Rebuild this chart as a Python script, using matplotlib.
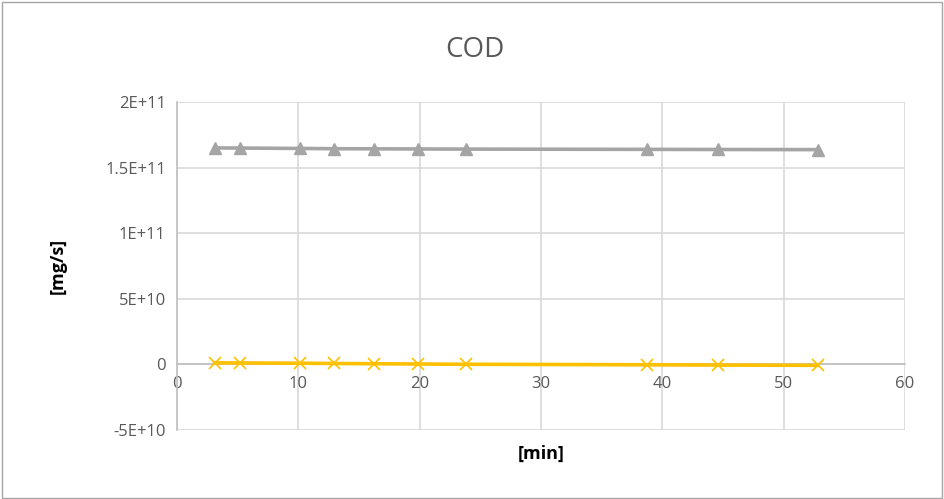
import numpy as np
import matplotlib.pyplot as plt
from matplotlib.patches import Rectangle

# data
time_min = [3.1, 5.2, 10.1, 12.9, 16.2, 19.9, 23.8, 38.7, 44.6, 52.8]
cod_gray = [1.650e11, 1.649e11, 1.646e11, 1.644e11, 1.643e11, 1.642e11, 1.641e11, 1.639e11, 1.638e11, 1.637e11]
cod_yellow = [1.2e9, 1.1e9, 0.9e9, 0.7e9, 0.5e9, 0.3e9, 0.1e9, -0.3e9, -0.5e9, -0.7e9]

x_ticks = [0, 10, 20, 30, 40, 50, 60]
y_ticks = [-5e10, 0, 5e10, 1e11, 1.5e11, 2e11]
y_labels = ["-5E+10", "0", "5E+10", "1E+11", "1.5E+11", "2E+11"]

plt.rcParams['font.family'] = ['Open Sans', 'DejaVu Sans']

fig = plt.figure(figsize=(9.44, 4.99), dpi=100)
ax = fig.add_axes([177 / 944, 1 - 430 / 499, (905 - 177) / 944, (430 - 102) / 499])

txt = "#595959"
grid = "#d9d9d9"

ax.plot(time_min, cod_gray, color="#a5a5a5", lw=2.6, marker="^", ms=9, zorder=3)
ax.plot(time_min, cod_yellow, color="#ffc000", lw=2.6, marker="x", ms=8, mew=1.2, zorder=3)

ax.set_xlim(0, 60)
ax.set_ylim(-5e10, 2e11)
ax.set_xticks(x_ticks)
ax.set_yticks(y_ticks)
ax.set_yticklabels(y_labels)
ax.grid(True, color=grid, lw=1.2)
ax.set_axisbelow(True)

for s in ["top", "right"]:
    ax.spines[s].set_visible(False)
ax.spines["left"].set_color("#bfbfbf")
ax.spines["bottom"].set_color("#bfbfbf")
ax.spines["bottom"].set_position(("data", 0))
ax.spines["left"].set_linewidth(1.2)
ax.spines["bottom"].set_linewidth(1.2)
ax.tick_params(length=0, labelsize=12, colors=txt, pad=8)

fig.text(0.503, 1 - 50 / 499, "COD", fontsize=20, color=txt, ha="center", va="center")
ax.set_xlabel("[min]", fontsize=13, fontweight="bold", color="black")
ax.xaxis.set_label_coords(0.5, -0.045)
ax.set_ylabel("[mg/s]", fontsize=13, fontweight="bold", color="black", labelpad=28)

fig.patches.append(Rectangle((0.002, 0.002), 0.996, 0.994, transform=fig.transFigure,
                             fill=False, edgecolor="#a6a6a6", lw=1))

fig.savefig("out.png", dpi=100)
